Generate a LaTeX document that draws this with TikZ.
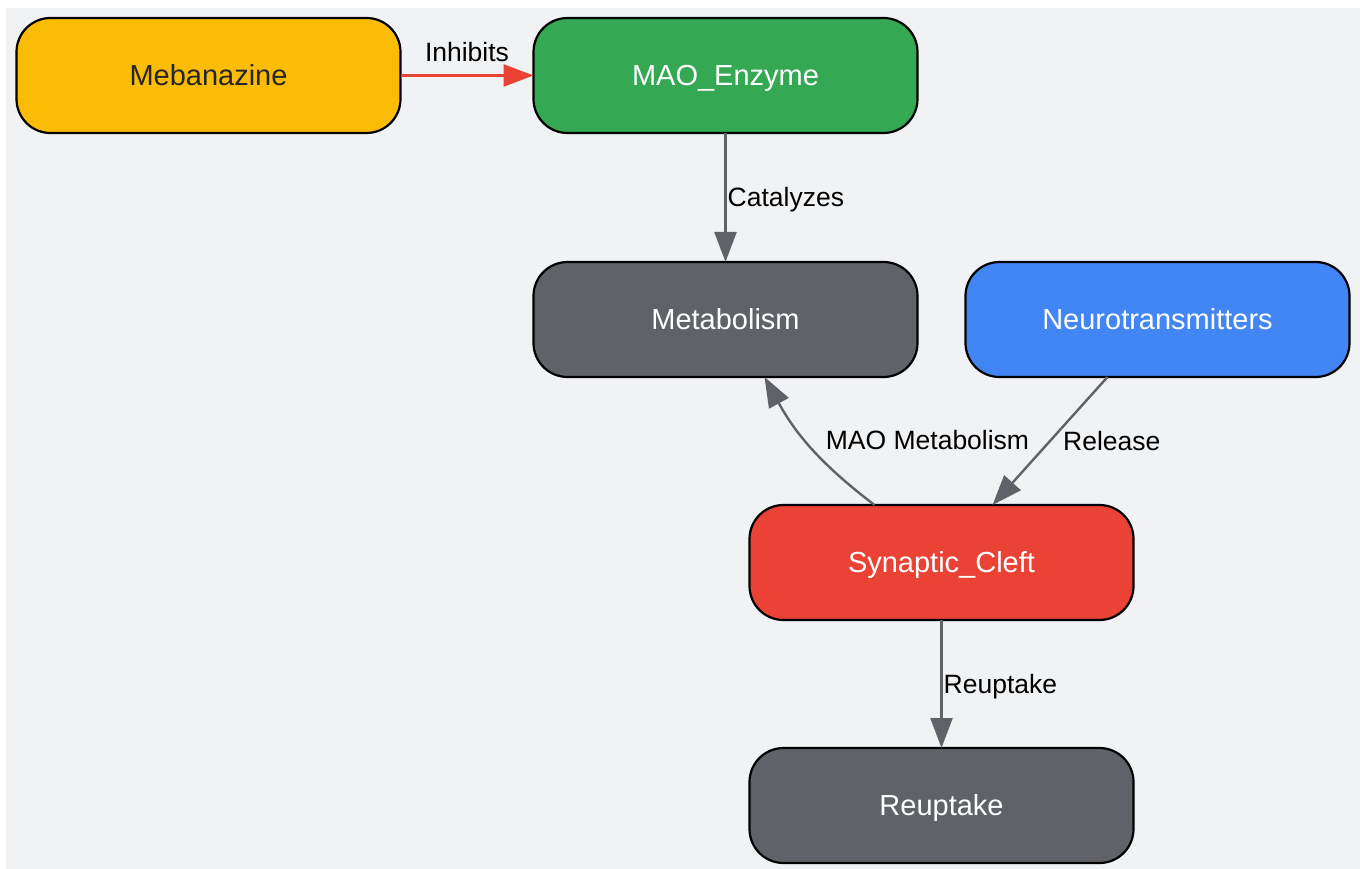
\documentclass[tikz,border=0pt]{standalone}
\usepackage{fontspec}
\setmainfont{Liberation Sans}
\usetikzlibrary{positioning,arrows.meta}

\definecolor{bggray}{HTML}{F1F2F4}
\definecolor{gyellow}{HTML}{FBBC05}
\definecolor{ggreen}{HTML}{34A853}
\definecolor{ggray}{HTML}{5F6368}
\definecolor{gblue}{HTML}{4285F4}
\definecolor{gred}{HTML}{EA4335}

\begin{document}
\begin{tikzpicture}[
			stepnode/.style={rectangle, rounded corners=34pt, draw=black, line width=2.2pt, outer sep=0pt, minimum width=384pt, minimum height=115pt, text height=20.8pt, text depth=0pt, font=\fontsize{29}{33}\selectfont, text=white},
			flow/.style={draw=ggray, line width=2.4pt, -{Triangle[length=30pt, width=22pt]}},
			flowlabel/.style={font=\fontsize{26.5}{31}\selectfont, text=black, inner sep=1pt, text height=19pt, text depth=0pt},
			node distance=129pt,
			]
			%Background
			\fill[bggray] (6pt,-8pt) rectangle (1360pt,-869pt);
			\useasboundingbox (0,0) rectangle (1360pt,-869pt);

			%Nodes
			\node[stepnode, fill=gyellow, text=black!85] (meban) at (208.5pt,-75.5pt) {Mebanazine};
			\node[stepnode, fill=ggreen] (mao)		[right=133pt of meban] {MAO\_Enzyme};
			\node[stepnode, fill=ggray] (metab)		[below=of mao] {Metabolism};
			\node[stepnode, fill=gblue] (neuro)		[right=48pt of metab] {Neurotransmitters};
			\node[stepnode, fill=gred] (synap)		[below right=128pt and -168pt of metab] {Synaptic\_Cleft};
			\node[stepnode, fill=ggray] (reup)		[below=128pt of synap] {Reuptake};

			%Edges
			\draw[flow, draw=gred] (meban) -- node[flowlabel, above=12pt] {Inhibits} (mao);
			\draw[flow] (mao) -- node[flowlabel, right] {Catalyzes} (metab);
			\draw[flow] ([xshift=-67pt]synap.north) to[bend left=12] node[flowlabel, right=12pt, yshift=8pt] {MAO Metabolism} ([xshift=39pt]metab.south);
			\draw[flow] ([xshift=-50pt]neuro.south) -- node[flowlabel, right=11pt] {Release} ([xshift=51pt]synap.north);
			\draw[flow] (synap) -- node[flowlabel, right] {Reuptake} (reup);
		\end{tikzpicture}
\end{document}
